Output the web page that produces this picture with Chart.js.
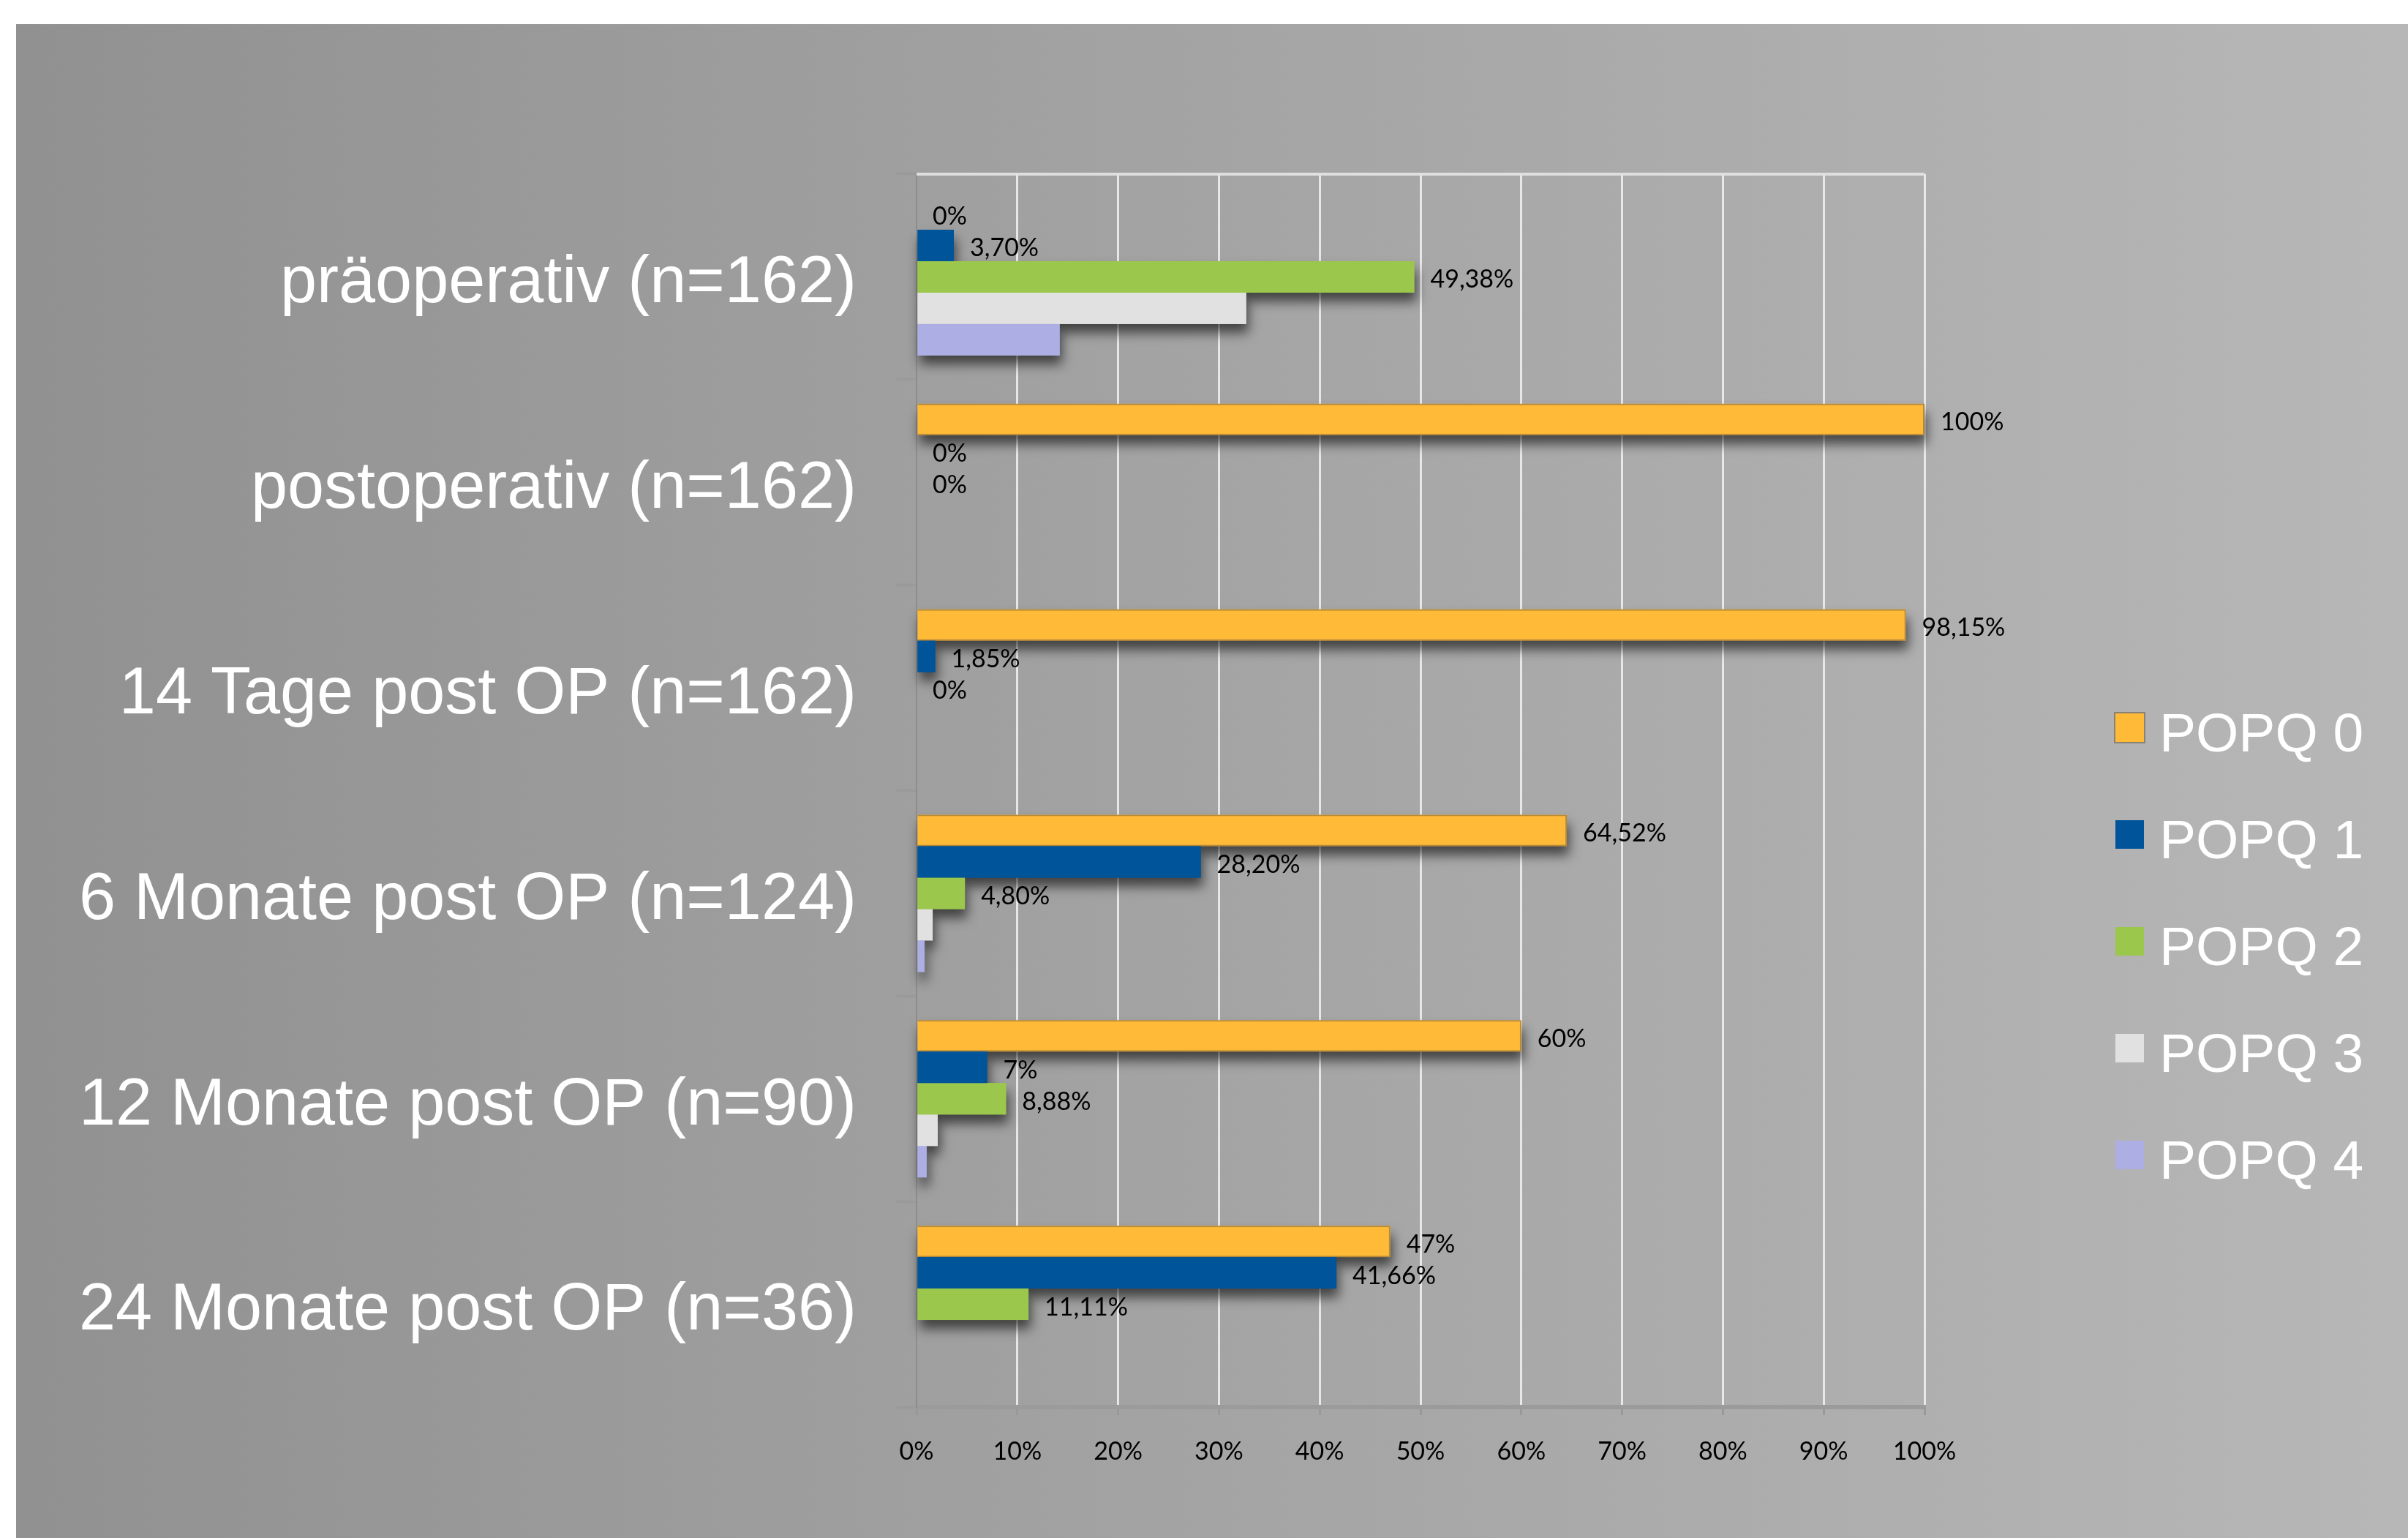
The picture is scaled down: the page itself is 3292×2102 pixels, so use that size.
<!DOCTYPE html>
<html>
<head>
<meta charset="utf-8">
<script src="https://cdn.jsdelivr.net/npm/chart.js@4.4.1/dist/chart.umd.min.js"></script>
<style>
  html, body { margin: 0; padding: 0; background: #fff; }
  canvas { display: block; }
</style>
</head>
<body>
<canvas id="popqChart" width="3292" height="2102"></canvas>
<script>
// Data
const categories = [
  "präoperativ (n=162)",
  "postoperativ (n=162)",
  "14 Tage post OP (n=162)",
  "6 Monate post OP (n=124)",
  "12 Monate post OP (n=90)",
  "24 Monate post OP (n=36)"
];
const seriesNames = ["POPQ 0", "POPQ 1", "POPQ 2", "POPQ 3", "POPQ 4"];

const popq0 = [0, 100, 98.15, 64.52, 60, 47];
const popq1 = [3.70, 0, 1.85, 28.20, 7, 41.66];
const popq2 = [49.38, 0, 0, 4.80, 8.88, 11.11];
const popq3 = [32.7, 0, 0, 1.6, 2.1, 0];
const popq4 = [14.2, 0, 0, 0.8, 1.0, 0];

// value labels as printed on the chart (null = no label)
const labels0 = ["0%", "100%", "98,15%", "64,52%", "60%", "47%"];
const labels1 = ["3,70%", "0%", "1,85%", "28,20%", "7%", "41,66%"];
const labels2 = ["49,38%", "0%", "0%", "4,80%", "8,88%", "11,11%"];
const labels3 = [null, null, null, null, null, null];
const labels4 = [null, null, null, null, null, null];

const xTicks = [0, 10, 20, 30, 40, 50, 60, 70, 80, 90, 100];

const colors = ["#FFBA38", "#00549A", "#9BC74C", "#E1E1E1", "#ADAEE3"];

// Background gradient, top border line and bar shadows
const backdrop = {
  id: "backdrop",
  beforeDraw(chart) {
    const c = chart.ctx;
    c.save();
    c.fillStyle = "#ffffff";
    c.fillRect(0, 0, chart.width, chart.height);
    const g = c.createLinearGradient(22, 0, chart.width, 0);
    g.addColorStop(0, "#919191");
    g.addColorStop(1, "#b7b7b7");
    c.fillStyle = g;
    c.fillRect(22, 33, chart.width - 22, chart.height - 33);
    c.restore();
  },
  beforeDatasetsDraw(chart) {
    const c = chart.ctx;
    const area = chart.chartArea;
    c.save();
    c.strokeStyle = "rgba(225,225,225,0.95)";
    c.lineWidth = 4;
    c.beginPath();
    c.moveTo(area.left, area.top);
    c.lineTo(area.right, area.top);
    c.stroke();

    c.shadowColor = "rgba(0,0,0,0.6)";
    c.shadowBlur = 16;
    c.shadowOffsetX = 3;
    c.shadowOffsetY = 12;
    chart.data.datasets.forEach((ds, i) => {
      c.fillStyle = ds.backgroundColor;
      chart.getDatasetMeta(i).data.forEach(bar => {
        const w = bar.x - bar.base;
        if (w <= 0) return;
        c.fillRect(bar.base, bar.y - bar.height / 2, w, bar.height);
      });
    });
    c.restore();
  }
};

// Value labels right of each bar
const barLabels = {
  id: "barLabels",
  afterDatasetsDraw(chart) {
    const c = chart.ctx;
    c.save();
    c.font = "34px Lato";
    c.fillStyle = "#000";
    c.textAlign = "left";
    c.textBaseline = "middle";
    chart.data.datasets.forEach((ds, i) => {
      chart.getDatasetMeta(i).data.forEach((bar, j) => {
        const txt = ds.valueLabels[j];
        if (txt) c.fillText(txt, bar.x + 22, bar.y + 4);
      });
    });
    c.restore();
  }
};

// Legend on the right
const sideLegend = {
  id: "sideLegend",
  afterDraw(chart) {
    const c = chart.ctx;
    c.save();
    c.font = "75px 'Liberation Sans', Arial, sans-serif";
    c.textAlign = "left";
    c.textBaseline = "alphabetic";
    chart.data.datasets.forEach((ds, i) => {
      const cy = 994 + i * 146;
      c.fillStyle = ds.backgroundColor;
      c.fillRect(2892, cy - 19, 39, 39);
      if (i === 0) {
        c.strokeStyle = "rgba(120,110,90,0.7)";
        c.lineWidth = 2;
        c.strokeRect(2891, cy - 20, 41, 41);
      }
      c.fillStyle = "#ffffff";
      c.fillText(ds.label, 2952, cy + 33);
    });
    c.restore();
  }
};

const ctx = document.getElementById("popqChart").getContext("2d");
const popqChart = new Chart(ctx, {
  type: "bar",
  data: {
    labels: categories,
    datasets: [
      { label: seriesNames[0], data: popq0, valueLabels: labels0, backgroundColor: colors[0],
        borderColor: "rgba(130,105,60,0.6)", borderWidth: 2 },
      { label: seriesNames[1], data: popq1, valueLabels: labels1, backgroundColor: colors[1] },
      { label: seriesNames[2], data: popq2, valueLabels: labels2, backgroundColor: colors[2] },
      { label: seriesNames[3], data: popq3, valueLabels: labels3, backgroundColor: colors[3] },
      { label: seriesNames[4], data: popq4, valueLabels: labels4, backgroundColor: colors[4] }
    ]
  },
  options: {
    indexAxis: "y",
    responsive: false,
    devicePixelRatio: 1,
    animation: false,
    categoryPercentage: 0.765,
    barPercentage: 1.0,
    layout: {
      padding: { left: 0, right: 661, top: 238, bottom: 0 }
    },
    plugins: {
      legend: { display: false },
      tooltip: { enabled: false }
    },
    scales: {
      x: {
        min: 0,
        max: 100,
        afterBuildTicks: scale => {
          scale.ticks = xTicks.map(v => ({ value: v }));
        },
        afterFit: scale => {
          scale.height = 179;
        },
        ticks: {
          color: "#000",
          font: { family: "Lato", size: 34 },
          padding: 30,
          callback: v => v + "%"
        },
        grid: {
          color: c => (c.index === 0 ? "rgba(0,0,0,0)" : "rgba(238,238,238,0.9)"),
          lineWidth: 3,
          tickLength: 11,
          tickColor: "#999999",
          tickWidth: 3
        },
        border: { color: "#9b9b9b", width: 6 }
      },
      y: {
        afterFit: scale => {
          scale.width = 1253;
        },
        ticks: {
          color: "#ffffff",
          font: { family: "'Liberation Sans', Arial, sans-serif", size: 90 },
          padding: 54,
          labelOffset: 10
        },
        grid: {
          drawOnChartArea: false,
          offset: true,
          tickLength: 28,
          tickColor: "#9a9a9a",
          tickWidth: 4
        },
        border: { color: "#8d8d8d", width: 2 }
      }
    }
  },
  plugins: [backdrop, barLabels, sideLegend]
});
</script>
</body>
</html>
